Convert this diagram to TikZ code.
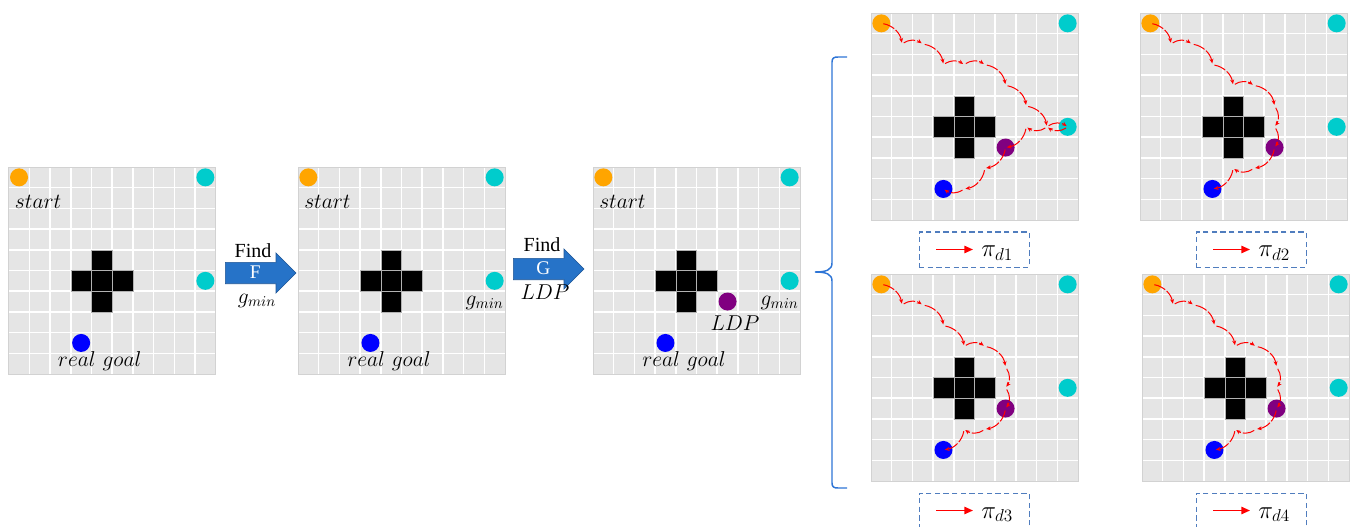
\documentclass[tikz,border=0pt]{standalone}
\usepackage{amsmath}
\usepackage{fontspec}
\newfontfamily\timesfont{Liberation Serif}
\usetikzlibrary{positioning,shapes.arrows,arrows.meta}
\definecolor{startcol}{RGB}{255,165,0}
\definecolor{gmincol}{RGB}{0,204,204}
\definecolor{goalcol}{RGB}{0,0,255}
\definecolor{ldpcol}{RGB}{128,0,128}
\definecolor{arrowblue}{RGB}{38,115,200}
\definecolor{arrowedge}{RGB}{30,85,150}
\definecolor{bracketblue}{RGB}{46,117,214}
\definecolor{keyblue}{RGB}{80,125,190}

\begin{document}
\begin{tikzpicture}[x=0.75pt,y=-0.75pt,
    gridline/.style={white, line width=1.1pt},
    wall/.style={fill=black, draw=gray!60, line width=0.3pt},
    disc/.style={circle, draw=none, inner sep=0pt, minimum size=13.5pt},
    lbl/.style={inner sep=0pt, font=\fontsize{14.4}{17}\selectfont, scale=1.12},
    word/.style={inner sep=0pt, font=\timesfont\fontsize{15}{17}\selectfont},
    blockarrow/.style={single arrow, fill=arrowblue, draw=arrowedge, line width=0.5pt,
        text=white, font=\timesfont\fontsize{14.5}{16}\selectfont,
        minimum height=53pt, single arrow head extend=7pt,
        text height=9pt, text depth=1.5pt, inner ysep=2.5pt, inner xsep=2pt},
    route/.style={red, line width=0.75pt, bend left=35, dash pattern=on 9pt off 1.5pt,
        shorten <=1.5pt, shorten >=1pt, -{Stealth[length=3.5pt, width=3pt]}},
    keybox/.style={draw=keyblue, dash pattern=on 4pt off 2.5pt, line width=0.75pt,
        minimum width=82.5pt, minimum height=26.25pt},
    keytext/.style={inner sep=0pt, font=\fontsize{17.28}{20}\selectfont, scale=1.08},
    keyarrow/.style={red, line width=1.2pt, -{Triangle[length=6.5pt, width=5.5pt]}},
    bracket/.style={bracketblue, line width=1.1pt}
]
\useasboundingbox (0,0) rectangle (1351,527);

% the seven maps
\foreach \g/\gx/\gy in {1/8.7/167, 2/298/167, 3/593/167, 4/871/13, 5/1140/13, 6/871/274, 7/1142/274}{
\begin{scope}[shift={(\gx,\gy)}]
    \fill[black!10] (0,0) rectangle (207,207);
    \foreach \k in {1,...,9}
        \draw[gridline] (\k*20.7,0) -- (\k*20.7,207) (0,\k*20.7) -- (207,\k*20.7);
    \draw[gray!35, line width=0.4pt] (0,0) rectangle (207,207);
    \foreach \i/\j in {4/4,3/5,4/5,5/5,4/6}
        \draw[wall] (\i*20.7,\j*20.7) rectangle ++(20.7,20.7);
    \foreach \i in {0,...,9}
        \foreach \j in {0,...,9}
            \coordinate (Cell\g\i\j) at ({(\i+0.5)*20.7},{(\j+0.5)*20.7});
    \node[disc, fill=startcol] (Start\g) at (Cell\g00) {};
    \node[disc, fill=gmincol] (Corner\g) at (Cell\g90) {};
    \node[disc, fill=gmincol] (Gmin\g) at (Cell\g95) {};
    \node[disc, fill=goalcol] (Goal\g) at (Cell\g38) {};
    \ifnum\g>2
        \node[disc, fill=ldpcol] (Ldp\g) at (Cell\g66) {};
    \fi
    \ifnum\g<4
        \node[lbl, anchor=west] (StartText\g) at (6,35) {$start$};
        \node[lbl] (GoalText\g) at (91,194.5) {$real\ goal$};
    \fi
    \ifnum\g>1 \ifnum\g<4
        \node[lbl, anchor=east] (GminText\g) at (206,136) {$g_{min}$};
    \fi\fi
    \ifnum\g=3
        \node[lbl] (LdpText\g) at (142,156) {$LDP$};
    \fi
\end{scope}
}

% deceptive paths
\foreach \a/\b in {00/11,11/21,21/32,32/42,42/52,52/63,63/74,74/85,85/95,95/85,85/75,75/66,66/57,57/48,48/38}
    \draw[route] (Cell4\a) to (Cell4\b);
\foreach \g in {5,6,7}
    \foreach \a/\b in {00/11,11/21,21/32,32/43,43/53,53/64,64/65,65/66,66/57,57/47,47/38}
        \draw[route] (Cell\g\a) to (Cell\g\b);

\node[blockarrow, anchor=tail] (ArrowF) at (225,273) {F};
\node[word] (FindF) at (253,251) {Find};
\node[lbl] (GminF) at (257,301) {$g_{min}$};
\node[blockarrow, anchor=tail] (ArrowG) at (513,269) {G};
\node[word] (FindG) at (542,245) {Find};
\node[lbl] (LdpG) at (545,292) {$LDP$};

\draw[bracket] (847,57) -- (838,57) .. controls (834,57) and (832,58) .. (832,62) -- (832,263)
    .. controls (832,270) and (826,272) .. (815,272)
    .. controls (826,272) and (832,274) .. (832,281) -- (832,483)
    .. controls (832,487) and (834,488) .. (838,488) -- (847,488);

\foreach \g/\kx/\ky/\n in {4/974/249.5/1, 5/1251/249.5/2, 6/974/510.5/3, 7/1251/510.5/4}{
    \node[keybox] (Key\g) at (\kx,\ky) {};
    \node[keytext, anchor=base west] (Pi\g) at (\kx+7,\ky+7.5) {$\pi_{d\n}$};
    \draw[keyarrow] ([xshift=-28.5pt]Key\g.center) -- ([xshift=-0.75pt]Key\g.center);
}
\end{tikzpicture}
\end{document}
